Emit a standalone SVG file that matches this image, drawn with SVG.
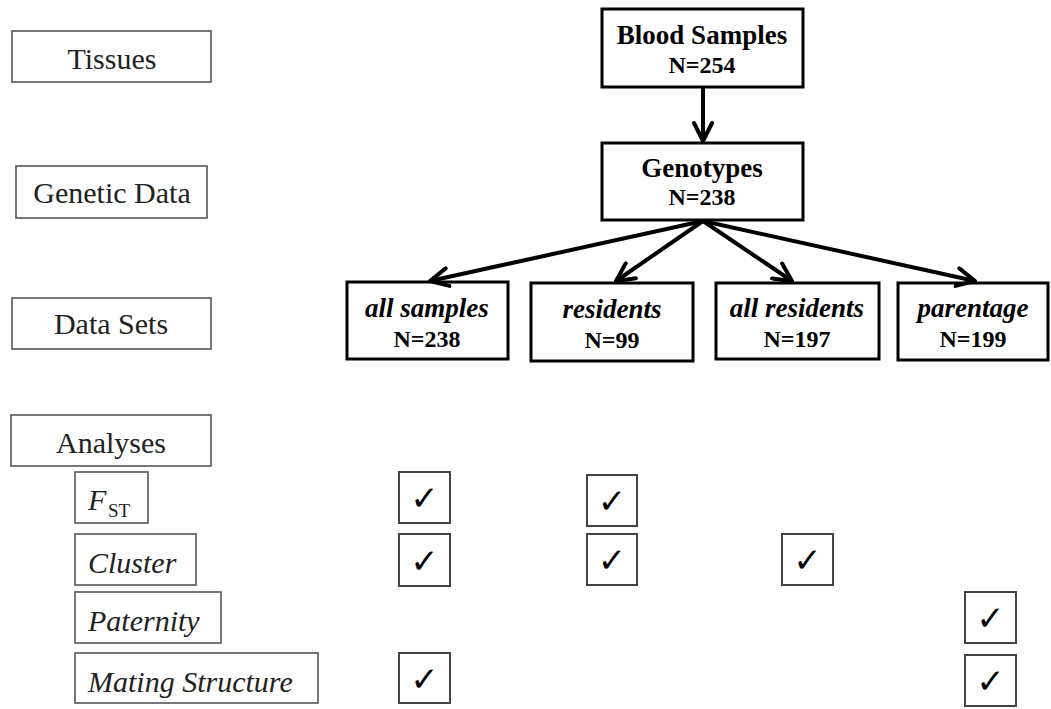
<svg xmlns="http://www.w3.org/2000/svg" width="1051" height="709" viewBox="0 0 1051 709">
<style>
.lbox{fill:#fff;stroke:#555;stroke-width:1.6}
.nbox{fill:#fff;stroke:#000;stroke-width:3}
.cbox{fill:#fff;stroke:#444;stroke-width:2}
.lt{font-family:"Liberation Serif","Times New Roman",serif;font-size:30px;fill:#222;text-anchor:middle}
.it{font-family:"Liberation Serif","Times New Roman",serif;font-size:30px;font-style:italic;fill:#222}
.bt{font-family:"Liberation Serif","Times New Roman",serif;font-size:27px;font-weight:bold;fill:#000;text-anchor:middle}
.bi{font-family:"Liberation Serif","Times New Roman",serif;font-size:27px;font-weight:bold;font-style:italic;fill:#000;text-anchor:middle}
.nt{font-family:"Liberation Serif","Times New Roman",serif;font-size:24px;font-weight:bold;fill:#000;text-anchor:middle}
.ck{font-family:"DejaVu Sans",sans-serif;font-size:34px;font-weight:bold;fill:#000;text-anchor:middle}
.conn{stroke:#000;stroke-width:4;fill:none;marker-end:url(#arr)}
</style>
<defs>
<marker id="arr" viewBox="0 0 22 22" refX="20" refY="11" markerWidth="22" markerHeight="22" markerUnits="userSpaceOnUse" orient="auto">
<path d="M2,2 L20,11 L2,20" fill="none" stroke="#000" stroke-width="4" stroke-linecap="round" stroke-linejoin="round"/>
</marker>
</defs>
<rect width="1051" height="709" fill="#fff"/>

<g id="label-tissues"><rect class="lbox" x="12" y="31" width="199" height="51"/><text class="lt" x="112" y="69">Tissues</text></g>
<g id="label-genetic"><rect class="lbox" x="16" y="166" width="191" height="52"/><text class="lt" x="112" y="203">Genetic Data</text></g>
<g id="label-datasets"><rect class="lbox" x="12" y="298" width="199" height="51"/><text class="lt" x="111" y="334">Data Sets</text></g>
<g id="label-analyses"><rect class="lbox" x="11" y="415" width="200" height="51"/><text class="lt" x="111" y="453">Analyses</text></g>
<g id="label-fst"><rect class="lbox" x="75" y="472" width="73" height="51"/><text class="it" x="88" y="510">F</text><text x="108" y="517" style="font-family:'Liberation Serif','Times New Roman',serif;font-size:19px;fill:#222">ST</text></g>
<g id="label-cluster"><rect class="lbox" x="75" y="534" width="121" height="51"/><text class="it" x="88" y="573">Cluster</text></g>
<g id="label-paternity"><rect class="lbox" x="75" y="592" width="146" height="51"/><text class="it" x="88" y="631">Paternity</text></g>
<g id="label-mating"><rect class="lbox" x="75" y="653" width="243" height="50"/><text class="it" x="88" y="692">Mating Structure</text></g>

<g id="node-blood"><rect class="nbox" x="602" y="9" width="201" height="78"/><text class="bt" x="702" y="44">Blood Samples</text><text class="nt" x="702" y="73">N=254</text></g>
<g id="node-genotypes"><rect class="nbox" x="602" y="143" width="201" height="77"/><text class="bt" x="702" y="177">Genotypes</text><text class="nt" x="702" y="205">N=238</text></g>
<g id="node-allsamples"><rect class="nbox" x="347" y="282" width="161" height="77"/><text class="bi" x="427" y="317">all samples</text><text class="nt" x="427" y="347">N=238</text></g>
<g id="node-residents"><rect class="nbox" x="531" y="283" width="162" height="78"/><text class="bi" x="612" y="318">residents</text><text class="nt" x="612" y="348">N=99</text></g>
<g id="node-allresidents"><rect class="nbox" x="716" y="283" width="163" height="76"/><text class="bi" x="797" y="317">all residents</text><text class="nt" x="797" y="347">N=197</text></g>
<g id="node-parentage"><rect class="nbox" x="898" y="283" width="150" height="77"/><text class="bi" x="973" y="317">parentage</text><text class="nt" x="973" y="347">N=199</text></g>

<g id="connectors">
<line class="conn" x1="703" y1="88" x2="703" y2="141"/>
<line class="conn" x1="703" y1="221" x2="430" y2="281"/>
<line class="conn" x1="703" y1="221" x2="616" y2="281"/>
<line class="conn" x1="703" y1="221" x2="792" y2="281"/>
<line class="conn" x1="703" y1="221" x2="975" y2="281"/>
</g>

<g id="checks">
<g id="check-fst-all"><rect class="cbox" x="399" y="472" width="51" height="51"/><text class="ck" x="424.5" y="510">✓</text></g>
<g id="check-fst-res"><rect class="cbox" x="587" y="475" width="50" height="51"/><text class="ck" x="612" y="513">✓</text></g>
<g id="check-cl-all"><rect class="cbox" x="399" y="534" width="51" height="52"/><text class="ck" x="424.5" y="573">✓</text></g>
<g id="check-cl-res"><rect class="cbox" x="587" y="534" width="50" height="51"/><text class="ck" x="612" y="572">✓</text></g>
<g id="check-cl-allres"><rect class="cbox" x="782" y="534" width="51" height="51"/><text class="ck" x="807.5" y="572">✓</text></g>
<g id="check-pat-par"><rect class="cbox" x="965" y="592" width="51" height="51"/><text class="ck" x="990.5" y="630">✓</text></g>
<g id="check-mat-all"><rect class="cbox" x="399" y="653" width="51" height="50"/><text class="ck" x="424.5" y="691">✓</text></g>
<g id="check-mat-par"><rect class="cbox" x="965" y="655" width="51" height="51"/><text class="ck" x="990.5" y="693">✓</text></g>
</g>
</svg>
